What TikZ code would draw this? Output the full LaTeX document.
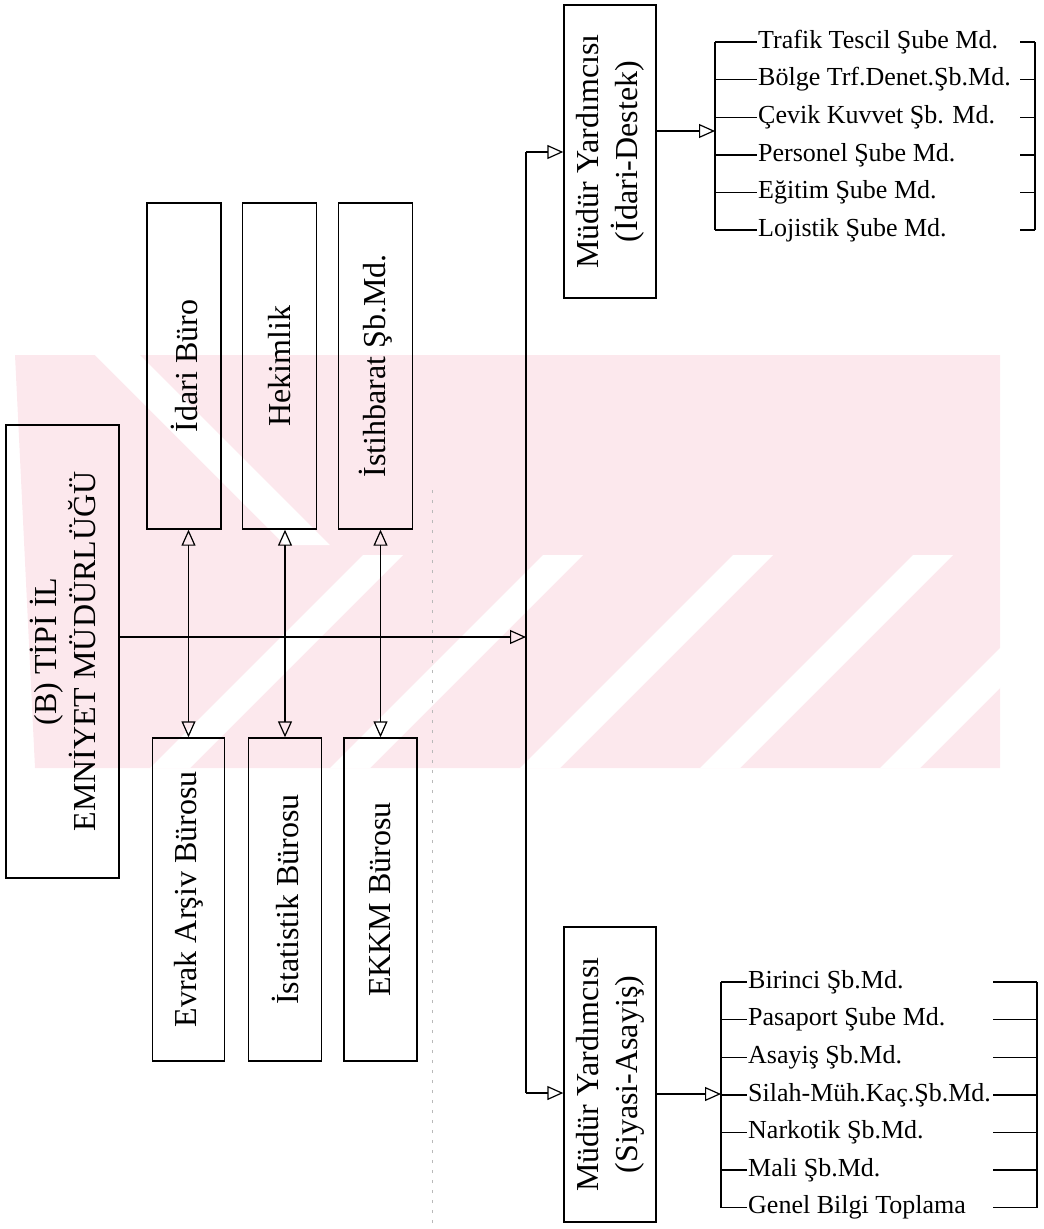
\documentclass[tikz,border=0pt]{standalone}
\usepackage{fontspec}
\setmainfont{Liberation Serif}
\usetikzlibrary{arrows.meta,positioning}

\definecolor{wmpink}{RGB}{252,232,237}

\tikzset{
  box/.style={draw, rectangle, rotate=90, align=center, inner sep=0pt, line width=1.4pt,
    font=\fontsize{32}{39}\selectfont},
  item/.style={anchor=west, inner sep=1pt, font=\fontsize{26}{30}\selectfont},
  wire/.style={line width=1.4pt},
  tip/.style={Triangle[open, length=16pt, width=14pt, line width=1.2pt]},
  link/.style={wire, -{Triangle[open, length=16pt, width=14pt, line width=1.2pt]}},
  twoway/.style={wire, {Triangle[open, length=16pt, width=14pt, line width=1.2pt]}-{Triangle[open, length=16pt, width=14pt, line width=1.2pt]}}
}

\begin{document}
\begin{tikzpicture}[x=1pt, y=-1pt]
  \useasboundingbox (0,0) rectangle (1044,1229);

  % watermark behind the chart
  \fill[wmpink] (15,355) -- (1000,355) -- (1000,768) -- (35,768) -- cycle;
  \fill[white] (95,355) -- (140,355) -- (330,545) -- (285,545) -- cycle;
  \foreach \s in {150, 330, 520, 700, 880}
    \fill[white] (\s,768) -- (\s+40,768) -- (\s+253,555) -- (\s+213,555) -- cycle;

  % fold of the sheet
  \draw[gray!55, line width=0.8pt, dash pattern=on 3pt off 7pt] (432,490) -- (432,1229);

  % head office
  \node[box, minimum width=453pt, minimum height=113pt] (main) at (62.5,651.5)
    {(B) TİPİ İL\\EMNİYET MÜDÜRLÜĞÜ};

  % units above the line
  \node[box, minimum width=326pt, minimum height=74pt] (idari) at (184,366) {İdari Büro};
  \node[box, minimum width=326pt, minimum height=74pt] (hekim) at (279.5,366) {Hekimlik};
  \node[box, minimum width=326pt, minimum height=74pt] (istih) at (375.5,366) {İstihbarat Şb.Md.};

  % units below the line
  \node[box, minimum width=323pt, minimum height=72pt] (evrak) at (188.5,899.5) {Evrak Arşiv Bürosu};
  \node[box, minimum width=323pt, minimum height=73pt] (istat) at (285,899.5) {İstatistik Bürosu};
  \node[box, minimum width=323pt, minimum height=73pt] (ekkm) at (380.5,899.5) {EKKM Bürosu};

  % deputy directors
  \node[box, minimum width=293pt, minimum height=92pt] (mya) at (610,151.5)
    {Müdür Yardımcısı\\(İdari-Destek)};
  \node[box, minimum width=295pt, minimum height=92pt] (myb) at (610,1074.5)
    {Müdür Yardımcısı\\(Siyasi-Asayiş)};

  % main line and bus
  \coordinate (hub) at (526,637);
  \coordinate (busA) at (526,152);
  \coordinate (busB) at (526,1093);
  \draw[link] (main.south |- hub) -- (hub);
  \draw[wire] (busA) -- (busB);
  \draw[link] (busA) -- (busA -| mya.north);
  \draw[link] (busB) -- (busB -| myb.north);

  % links between the upper and lower units
  \draw[twoway] (evrak.east |- idari.west) -- (evrak.east);
  \draw[twoway] (istat.east |- hekim.west) -- (istat.east);
  \draw[twoway] (ekkm.east |- istih.west) -- (ekkm.east);

  % branches of the administrative deputy
  \coordinate (brA) at (715,131);
  \draw[link] (brA -| mya.south) -- (brA);
  \foreach \txt [count=\i] in {Trafik Tescil Şube Md., Bölge Trf.Denet.Şb.Md.,
      Çevik Kuvvet Şb. Md., Personel Şube Md., Eğitim Şube Md., Lojistik Şube Md.}{
    \node[item] (ta\i) at (757,{42+37.6*(\i-1)}) {\txt};
    \draw[wire] (brA |- ta\i.west) -- (ta\i.west);
    \draw[wire] (1035,{42+37.6*(\i-1)}) -- ++(-15,0);
  }
  \draw[wire] (brA |- ta1.west) -- (brA |- ta6.west);
  \draw[wire] (1035,42) -- (1035,230);

  % branches of the security deputy
  \coordinate (brB) at (721,1094);
  \draw[link] (brB -| myb.south) -- (brB);
  \foreach \txt [count=\i] in {Birinci Şb.Md., Pasaport Şube Md., Asayiş Şb.Md.,
      Silah-Müh.Kaç.Şb.Md., Narkotik Şb.Md., Mali Şb.Md., Genel Bilgi Toplama}{
    \node[item] (tb\i) at (747,{982+37.6*(\i-1)}) {\txt};
    \draw[wire] (brB |- tb\i.west) -- (tb\i.west);
    \draw[wire] (1037,{982+37.6*(\i-1)}) -- (993,{982+37.6*(\i-1)});
  }
  \draw[wire] (brB |- tb1.west) -- (brB |- tb7.west);
  \draw[wire] (1037,982) -- (1037,1207.6);
\end{tikzpicture}
\end{document}
